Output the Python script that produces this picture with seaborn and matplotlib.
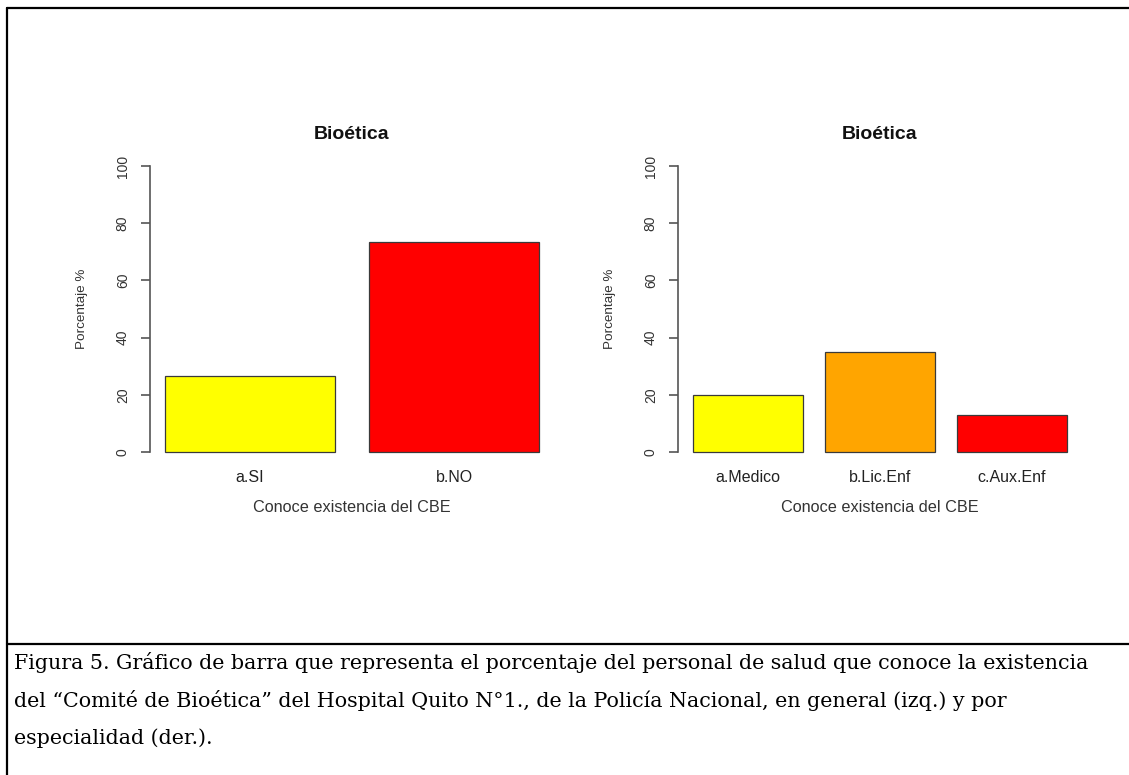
import matplotlib
matplotlib.use("Agg")
import matplotlib.pyplot as plt
import seaborn as sns

# datos
titulo = "Bioética"
cat_general = ["a.SI", "b.NO"]
pct_general = [26.7, 73.3]
col_general = ["#FFFF00", "#FF0000"]

cat_espec = ["a.Medico", "b.Lic.Enf", "c.Aux.Enf"]
pct_espec = [20.0, 35.0, 13.0]
col_espec = ["#FFFF00", "#FFA500", "#FF0000"]

eje_x = "Conoce existencia del CBE"
eje_y = "Porcentaje %"
yticks = [0, 20, 40, 60, 80, 100]

caption = [
    "Figura 5. Gráfico de barra que representa el porcentaje del personal de salud que conoce la existencia",
    "del \u201cComité de Bioética\u201d del Hospital Quito N°1., de la Policía Nacional, en general (izq.) y por",
    "especialidad (der.).",
]

sns.set_style("white")
plt.rcParams['font.family'] = ['Liberation Sans', 'DejaVu Sans']

W, H = 1129, 775
fig = plt.figure(figsize=(W / 100, H / 100), dpi=100)

# marco del documento (coordenadas en pixeles)
bg = fig.add_axes([0, 0, 1, 1], zorder=-1)
bg.set_xlim(0, W)
bg.set_ylim(H, 0)
bg.axis("off")
bg.plot([7, 7], [8, H], color="black", lw=1.6)
bg.plot([7, W], [8, 8], color="black", lw=1.6)
bg.plot([7, W], [644, 644], color="black", lw=1.6)
ys = [669, 707, 744]
for txt, y in zip(caption, ys):
    bg.text(14, y, txt, family=['DejaVu Serif'], fontsize=14.9,
            va="baseline", ha="left", color="black")


def panel(left_px, cats, vals, cols, xlim):
    top_px, bot_px = 154.6, 463.4
    width_px = 404
    ax = fig.add_axes([left_px / W, (H - bot_px) / H, width_px / W, (bot_px - top_px) / H])
    sns.barplot(x=cats, y=vals, hue=cats, palette=cols, legend=False,
                width=0.833, edgecolor="#3a3a3a", linewidth=0.9, ax=ax, saturation=1)
    ax.set_xlim(*xlim)
    ax.set_ylim(-4, 104)
    ax.set_facecolor("none")
    for s in ["top", "right", "bottom"]:
        ax.spines[s].set_visible(False)
    ax.spines["left"].set_bounds(0, 100)
    ax.spines["left"].set_color("#555555")
    ax.spines["left"].set_linewidth(1.2)
    ax.set_yticks(yticks)
    ax.set_yticklabels([str(v) for v in yticks], rotation=90, va="center")
    ax.tick_params(axis="y", direction="out", length=6.5, width=1.2, color="#555555",
                   pad=8, labelsize=10, labelcolor="#333333", left=True)
    ax.tick_params(axis="x", length=0, pad=4.7, labelsize=11.5, labelcolor="#222222")
    ax.set_title(titulo, fontsize=14, fontweight="bold", pad=11, color="#111111")
    ax.set_xlabel(eje_x, fontsize=11.7, color="#333333", va="center")
    ax.xaxis.set_label_coords(0.5, -0.1444)
    ax.set_ylabel(eje_y, fontsize=9.7, color="#333333", va="center")
    ax.yaxis.set_label_coords(-0.168, 0.5)
    return ax


panel(150, cat_general, pct_general, col_general, (-0.49, 1.49))
panel(678, cat_espec, pct_espec, col_espec, (-0.53, 2.53))

fig.savefig("out.png", dpi=100, facecolor="white")
